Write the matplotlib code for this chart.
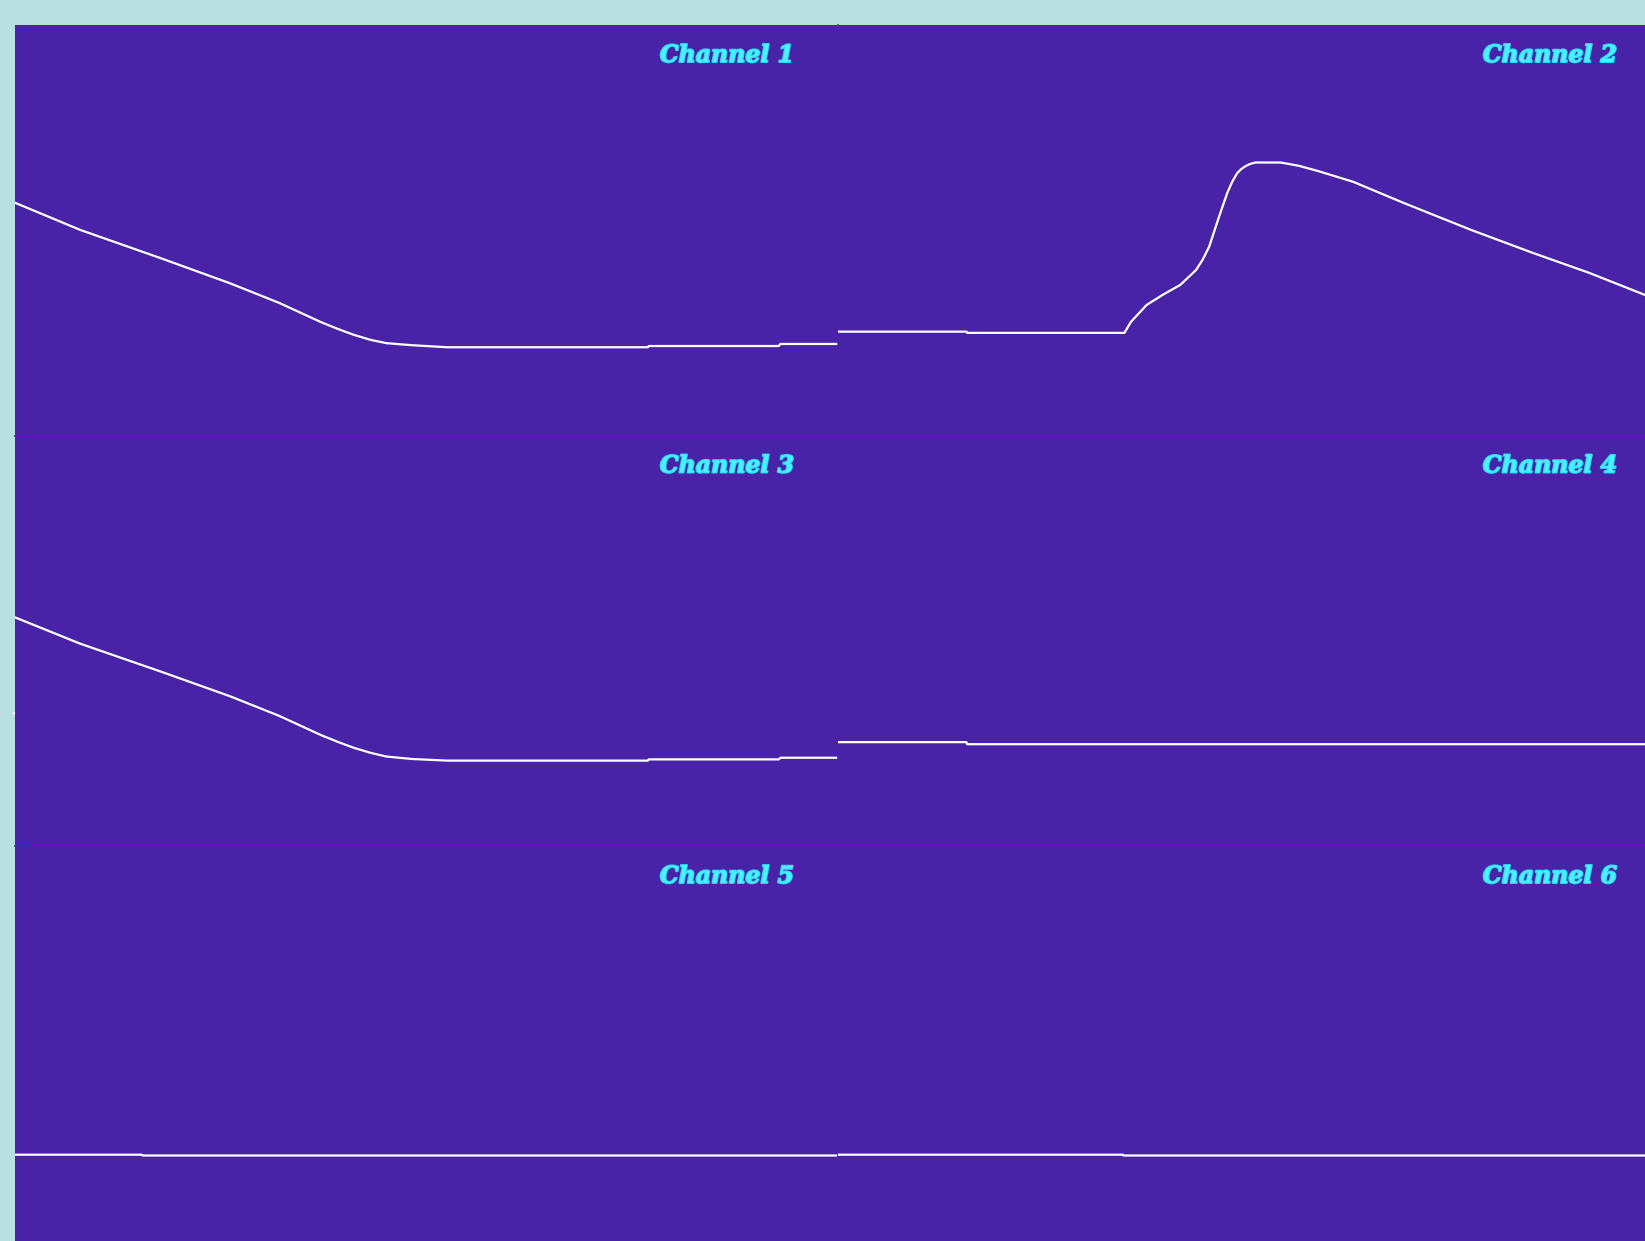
import numpy as np
import matplotlib
matplotlib.use('Agg')
import matplotlib.pyplot as plt
import matplotlib.patheffects as pe

# время в % окна, значение в % высоты панели
ch1_t = [0, 7.9, 17.7, 26.1, 32.1, 37.2, 39.3, 41.2, 43.2, 45.1, 48.2, 52.5, 76.9, 77.0, 92.8, 93.0, 100]
ch1_v = [56.7, 50.1, 43.2, 37.1, 32.3, 27.6, 25.9, 24.5, 23.3, 22.5, 22.0, 21.5, 21.5, 21.8, 21.8, 22.3, 22.3]

ch2_t = [0, 15.6, 15.7, 34.8, 35.6, 37.5, 39.4, 41.6, 43.5, 44.3, 45.1, 46.3, 47.3, 47.9, 48.5,
         49.0, 49.5, 50.0, 50.7, 53.8, 56.0, 58.2, 62.6, 68.8, 76.9, 84.4, 91.3, 98.1, 100]
ch2_v = [25.3, 25.3, 25.0, 25.0, 27.7, 31.8, 34.2, 36.7, 40.3, 42.8, 46.0, 53.3, 59.1, 61.8, 63.9,
         64.9, 65.6, 66.1, 66.5, 66.5, 65.7, 64.5, 61.8, 56.6, 50.1, 44.5, 39.6, 34.2, 32.8]

ch3_t = [0, 7.9, 17.7, 26.1, 32.1, 37.2, 39.3, 41.2, 43.2, 45.1, 48.2, 52.5, 76.9, 77.0, 92.8, 93.0, 100]
ch3_v = [55.7, 49.3, 42.5, 36.5, 31.7, 27.0, 25.3, 23.9, 22.7, 21.8, 21.2, 20.8, 20.8, 21.1, 21.1, 21.5, 21.5]

ch4_t = [0, 15.6, 15.7, 100]
ch4_v = [25.3, 25.3, 24.8, 24.8]

ch5_t = [0, 15.4, 15.5, 100]
ch5_v = [24.8, 24.8, 24.6, 24.6]

ch6_t = [0, 34.6, 34.7, 100]
ch6_v = [24.8, 24.8, 24.6, 24.6]

channels = [(ch1_t, ch1_v), (ch2_t, ch2_v), (ch3_t, ch3_v),
            (ch4_t, ch4_v), (ch5_t, ch5_v), (ch6_t, ch6_v)]
names = ['Channel 1', 'Channel 2', 'Channel 3', 'Channel 4', 'Channel 5', 'Channel 6']
ch3_mark = 32.5

W, H = 1645, 1241
bg = '#b9dfe2'
panel = '#4823a8'
grid = '#1d4c5c'
label = '#4af2ff'

fig = plt.figure(figsize=(W / 100, H / 100), dpi=100, facecolor=bg)

left, top = 15, 25
pw, ph = 823, 410.5

for i, ((t, v), name) in enumerate(zip(channels, names)):
    row, col = divmod(i, 2)
    x0 = left + col * pw
    y0 = top + row * ph
    ax = fig.add_axes([x0 / W, 1 - (y0 + ph) / H, pw / W, ph / H])
    ax.set_facecolor(panel)
    ax.plot(t, v, color='white', lw=1.6, solid_joinstyle='round')
    ax.set_xlim(0, 100)
    ax.set_ylim(0, 100)
    ax.set_xticks([])
    if i == 2:
        ax.set_yticks([ch3_mark])
        ax.tick_params(axis='y', length=1.5, width=1.5, color='white', labelleft=False)
    else:
        ax.set_yticks([])
    for s in ['left', 'top']:
        ax.spines[s].set_visible(False)
    for s in ['right', 'bottom']:
        ax.spines[s].set_color(grid)
        ax.spines[s].set_linewidth(1.2)
    ax.text(0.9465, 0.927, name, transform=ax.transAxes, ha='right', va='center',
            fontsize=17, fontweight='bold', fontstyle='italic', family='DejaVu Serif',
            color=label,
            path_effects=[pe.withStroke(linewidth=1.5, foreground='#2ad0ee')])

fig.savefig('out.png', dpi=100, facecolor=bg)
